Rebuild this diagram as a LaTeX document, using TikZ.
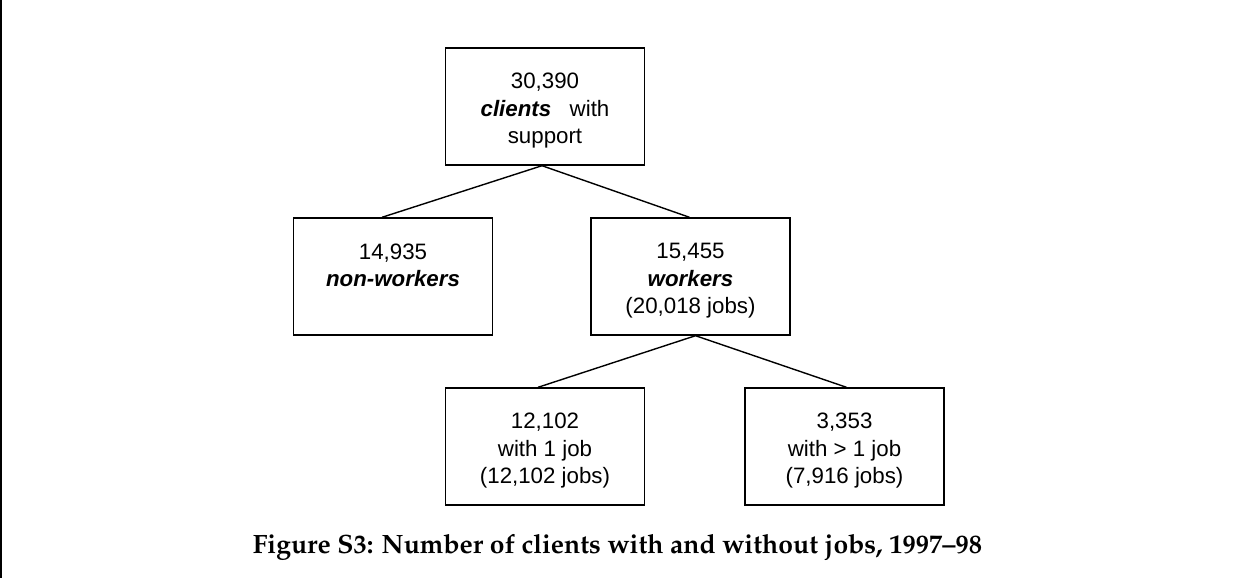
\documentclass[tikz,border=0pt]{standalone}
\usepackage[T1]{fontenc}
\usepackage{fontspec}
\newfontfamily\boxfont{Liberation Sans}
\newcommand\capfont{\fontencoding{T1}\fontfamily{ppl}\fontseries{b}\fontshape{n}\selectfont}
\newcommand\myTop{\rule{0pt}{24.5pt}}
\newcommand\myBot{\rule[-4.5pt]{0pt}{4.5pt}}
\begin{document}
\begin{tikzpicture}[x=1pt,y=-1pt,
  box/.style={draw,line width=1.4pt,minimum width=199pt,minimum height=117pt,
    inner sep=0pt,align=center,font=\boxfont\fontsize{22.3pt}{27.5pt}\selectfont},
  link/.style={line width=1.4pt},
  captext/.style={font=\capfont\fontsize{26.5pt}{30pt}\selectfont,anchor=base,inner sep=0pt}]
\useasboundingbox (0,0) rectangle (1238,578);
\fill[white] (0,0) rectangle (1238,578);
\draw[line width=1.5pt] (1,0) -- (1,578);
\node[box] (top) at (545,106.5) {\myTop 30,390\\ \textbf{\textit{clients}}\hspace{0.55em} with\\ support\myBot};
\node[box] (nonw) at (393,276.5) {\myTop 14,935\\ \textbf{\textit{non-workers}}\\ \myBot};
\node[box] (work) at (690.5,276.5) {\myTop 15,455\\ \textbf{\textit{workers}}\\ (20,018 jobs)\myBot};
\node[box] (one) at (545,446.5) {\myTop 12,102\\ with 1 job\\ (12,102 jobs)\myBot};
\node[box] (more) at (844.5,446.5) {\myTop 3,353\\ with > 1 job\\ (7,916 jobs)\myBot};
\draw[link] ([xshift=-3pt]top.south) -- ([xshift=-11pt]nonw.north);
\draw[link] ([xshift=-3pt]top.south) -- ([xshift=-1pt]work.north);
\draw[link] ([xshift=5pt]work.south) -- ([xshift=-7pt]one.north);
\draw[link] ([xshift=5pt]work.south) -- ([xshift=2pt]more.north);
\node[captext] (cap) at (617.5,553) {Figure S3: Number of clients with and without jobs, 1997--98};
\end{tikzpicture}
\end{document}
